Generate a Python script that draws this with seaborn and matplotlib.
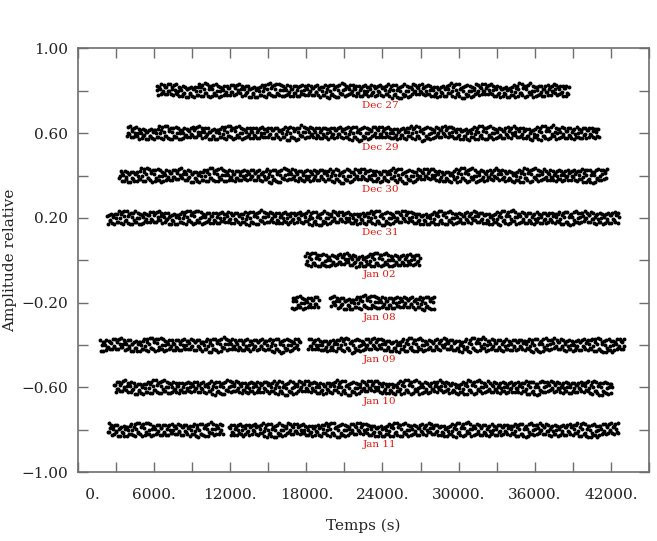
import matplotlib
matplotlib.use("Agg")
import matplotlib.pyplot as plt
import seaborn as sns
import pandas as pd
import numpy as np

# observing nights, vertical offset on the plot and time windows covered (s)
nights = ["Dec 27", "Dec 29", "Dec 30", "Dec 31", "Jan 02",
          "Jan 08", "Jan 09", "Jan 10", "Jan 11"]
levels = [0.80, 0.60, 0.40, 0.20, 0.00, -0.20, -0.40, -0.60, -0.80]
windows = [
    [(6200, 38700)],
    [(3850, 41100)],
    [(3250, 41700)],
    [(2300, 42700)],
    [(17900, 27000)],
    [(16850, 19000), (19900, 28100)],
    [(1750, 17500), (18150, 43100)],
    [(2850, 42100)],
    [(2350, 11450), (11900, 42600)],
]
cadence = 62  # s between exposures

# relative amplitude of a typical stretch of light curve (hundredths)
wiggle = [0.1, 1.7, -2.0, 1.5, 0.5, -1.6, 2.4, -1.0, -0.3, 2.1, -1.8, 1.2,
          1.0, -1.7, 2.3, -0.5, -0.7, 2.4, -1.6, 0.8, 1.5, -1.9, 2.1, 0.0,
          -1.1, 2.5, -1.3, 0.2, 1.9, -2.1, 1.3, 0.4, -1.9, 2.0, -1.1, -0.6,
          1.8, -2.2, 0.9, 1.0, -2.1, 1.7, -0.6, -0.9, 2.0, -2.0, 0.6, 1.3,
          -2.3, 1.5, 0.1, -1.5, 1.8, -1.5, 2.6, -0.4, -2.4, 1.1, 2.2, -2.6,
          0.3, 2.7, -1.4, -1.2, 2.6, -2.2, 0.7, 1.6, -2.7, 1.9, 0.3, -2.5,
          2.3, -0.9, -1.6, 2.8, -1.7, 0.0, 2.2, -2.4]
# slow undulation of the band, one value per block of points
drift = [0.2, 0.4, 0.1, -0.2, -0.4, -0.1, 0.3, 0.2, -0.1, -0.3, 0.0, 0.4,
         0.1, -0.4, -0.2]
block = 9

xticks = list(range(0, 45001, 3000))
xlabels = ["      0." if t == 0 else (f"{t}." if t % 6000 == 0 else "") for t in xticks]
yticks = [1.0, 0.8, 0.6, 0.4, 0.2, 0.0, -0.2, -0.4, -0.6, -0.8, -1.0]
ylabels = ["1.00", "", "0.60", "", "0.20", "", "\u22120.20", "", "\u22120.60", "", "\u22121.00"]

rows = []
for i, (night, lev, wins) in enumerate(zip(nights, levels, windows)):
    k = i * 13
    for (t0, t1) in wins:
        for t in range(t0, t1 + 1, cadence):
            d = wiggle[k % len(wiggle)] + drift[(k // block) % len(drift)]
            rows.append((night, t, lev + 0.0115 * d))
            k += 1
df = pd.DataFrame(rows, columns=["night", "time", "amp"])

sns.set_style("ticks")
plt.rcParams["font.family"] = ["DejaVu Serif"]

fig = plt.figure(figsize=(6.57, 5.41), dpi=100)
ax = fig.add_axes([0.1187, 0.127, 0.869, 0.7837])

sns.scatterplot(data=df, x="time", y="amp", ax=ax, color="black",
                s=8, linewidth=0, legend=False)

for night, lev in zip(nights, levels):
    ax.text(23800, lev - 0.068, night, color="#e8160c", fontsize=7.5,
            ha="center", va="center")

ax.set_xlim(0, 45000)
ax.set_ylim(-1.0, 1.0)
ax.set_xticks(xticks)
ax.set_xticklabels(xlabels)
ax.set_yticks(yticks)
ax.set_yticklabels(ylabels)

grey = "#6e6e6e"
for sp in ax.spines.values():
    sp.set_color(grey)
    sp.set_linewidth(1.2)
ax.tick_params(axis="both", direction="in", length=7, width=1.0, color=grey,
               top=True, right=True, labelsize=11, labelcolor="#222222")
ax.tick_params(axis="x", pad=11)
ax.tick_params(axis="y", pad=7)

ax.set_xlabel("Temps (s)", fontsize=11, color="#222222")
ax.set_ylabel("Amplitude relative", fontsize=11, color="#222222")
ax.xaxis.set_label_coords(0.5, -0.11)
ax.yaxis.set_label_coords(-0.106, 0.5)

fig.savefig("out.png", dpi=100)
